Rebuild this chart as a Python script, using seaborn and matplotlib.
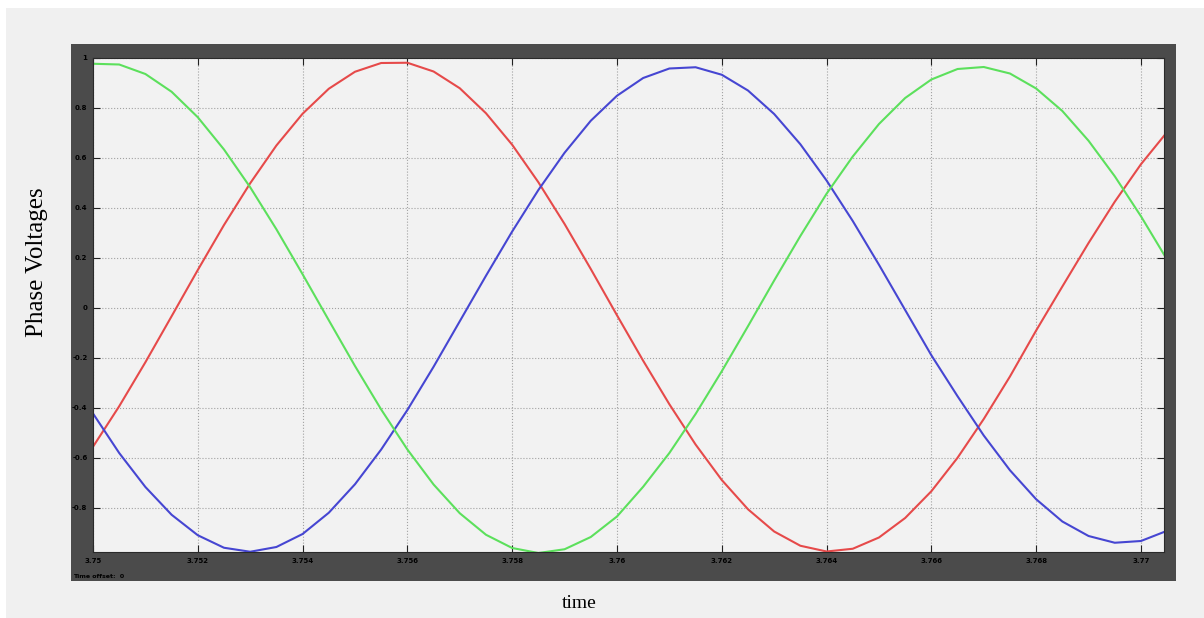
import matplotlib
matplotlib.use("Agg")
import matplotlib.pyplot as plt
from matplotlib.patches import Rectangle
import pandas as pd
import seaborn as sns

# Sample times (s)
time = [3.7500, 3.7505, 3.7510, 3.7515, 3.7520, 3.7525, 3.7530, 3.7535,
        3.7540, 3.7545, 3.7550, 3.7555, 3.7560, 3.7565, 3.7570, 3.7575,
        3.7580, 3.7585, 3.7590, 3.7595, 3.7600, 3.7605, 3.7610, 3.7615,
        3.7620, 3.7625, 3.7630, 3.7635, 3.7640, 3.7645, 3.7650, 3.7655,
        3.7660, 3.7665, 3.7670, 3.7675, 3.7680, 3.7685, 3.7690, 3.7695,
        3.7700, 3.7705]

# Phase voltages (per unit)
phase_a = [-0.555, -0.393, -0.217, -0.033, 0.152, 0.332, 0.499, 0.650,
           0.777, 0.877, 0.945, 0.980, 0.981, 0.946, 0.879, 0.779,
           0.653, 0.503, 0.336, 0.156, -0.029, -0.211, -0.385, -0.546,
           -0.688, -0.805, -0.894, -0.951, -0.974, -0.963, -0.918, -0.840,
           -0.733, -0.599, -0.444, -0.274, -0.090, 0.086, 0.260, 0.425,
           0.575, 0.704]
phase_b = [-0.422, -0.580, -0.716, -0.827, -0.909, -0.959, -0.975, -0.956,
           -0.904, -0.819, -0.705, -0.566, -0.408, -0.235, -0.053, 0.129,
           0.306, 0.472, 0.621, 0.749, 0.849, 0.920, 0.958, 0.963,
           0.933, 0.870, 0.776, 0.655, 0.510, 0.348, 0.173, -0.008,
           -0.189, -0.353, -0.510, -0.649, -0.765, -0.854, -0.912, -0.939,
           -0.932, -0.891]
phase_c = [0.977, 0.974, 0.936, 0.865, 0.763, 0.634, 0.483, 0.315,
           0.135, -0.049, -0.232, -0.406, -0.566, -0.706, -0.821, -0.907,
           -0.960, -0.980, -0.965, -0.916, -0.834, -0.715, -0.580, -0.424,
           -0.253, -0.073, 0.110, 0.288, 0.457, 0.606, 0.736, 0.840,
           0.914, 0.956, 0.964, 0.938, 0.878, 0.788, 0.669, 0.527,
           0.367, 0.193]

xticks = [3.75, 3.752, 3.754, 3.756, 3.758, 3.76, 3.762, 3.764, 3.766, 3.768, 3.77]
xtick_labels = ["3.75", "3.752", "3.754", "3.756", "3.758", "3.76",
                "3.762", "3.764", "3.766", "3.768", "3.77"]
yticks = [1.0, 0.8, 0.6, 0.4, 0.2, 0.0, -0.2, -0.4, -0.6, -0.8]
ytick_labels = ["1", "0.8", "0.6", "0.4", "0.2", "0", "-0.2", "-0.4", "-0.6", "-0.8"]

n = len(time)
df = pd.DataFrame({
    "time": time * 3,
    "voltage": phase_a + phase_b + phase_c,
    "phase": ["a"] * n + ["b"] * n + ["c"] * n,
})
palette = {"a": "#e64a4a", "b": "#4646d2", "c": "#5ce05c"}

W, H = 1204, 618
fig = plt.figure(figsize=(W / 100, H / 100), dpi=100, facecolor="white")

# window background and dark scope frame
fig.patches.append(Rectangle((6 / W, 0), 1, (H - 8) / H, transform=fig.transFigure,
                             facecolor="#f0f0f0", edgecolor="none", zorder=-10))
fig.patches.append(Rectangle((71 / W, 1 - 581 / H), (1176 - 71) / W, (581 - 44) / H,
                             transform=fig.transFigure, facecolor="#4b4b4b",
                             edgecolor="none", zorder=-9))

ax = fig.add_axes([93 / W, 1 - 552 / H, (1164 - 93) / W, (552 - 58) / H])
ax.set_facecolor("#f2f2f2")

sns.lineplot(data=df, x="time", y="voltage", hue="phase", palette=palette,
             linewidth=1.5, legend=False, estimator=None, sort=False, ax=ax)

ax.set_xlim(3.75, 3.77044)
ax.set_ylim(-0.976, 1.0)
ax.set_xticks(xticks)
ax.set_xticklabels(xtick_labels)
ax.set_yticks(yticks)
ax.set_yticklabels(ytick_labels)
ax.set_xlabel("")
ax.set_ylabel("")
ax.grid(True, linestyle=":", color="#a2a2a2", linewidth=0.8)
ax.tick_params(direction="in", length=5, width=0.8, color="#222222",
               top=True, right=True, labelsize=5, labelcolor="black", pad=4)
for lab in ax.get_xticklabels() + ax.get_yticklabels():
    lab.set_fontweight("bold")
for sp in ax.spines.values():
    sp.set_color("#2a2a2a")
    sp.set_linewidth(0.8)

fig.text(37 / W, 1 - 262 / H, "Phase Voltages", rotation=90, ha="center", va="center",
         fontsize=18, family="Liberation Serif", color="black")
fig.text(579 / W, 1 - 603 / H, "time", ha="center", va="center",
         fontsize=14, family="Liberation Serif", color="black")
fig.text(73 / W, 1 - 577 / H, "Time offset:  0", ha="left", va="center",
         fontsize=4.5, color="black", fontweight="bold")

fig.savefig("out.png", dpi=100, facecolor=fig.get_facecolor())
